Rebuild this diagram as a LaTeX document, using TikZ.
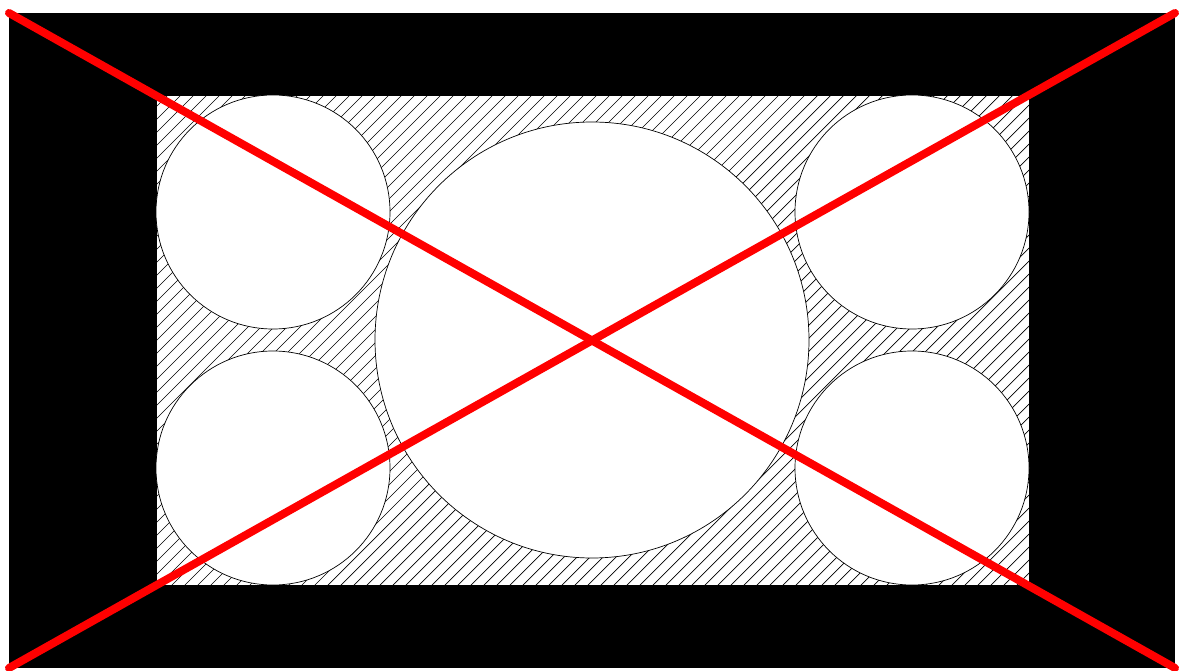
\documentclass[tikz,border=0pt]{standalone}
\begin{document}
\begin{tikzpicture}[x=1pt,y=-1pt,
  hole/.style={draw=black,fill=white,line width=0.7pt},
  hatch/.style={black,line width=0.7pt},
  cross/.style={red,line width=8pt,line cap=round}]
\useasboundingbox (0,0) rectangle (1179,671);
\fill[black] (9,13) rectangle (1175,668);
\fill[white] (157,96) rectangle (1029,585);
\begin{scope}
  \clip (157,96) rectangle (1029,585);
  \foreach \i in {-520,-507,...,880}
    \draw[hatch] (157+\i,600) -- ++(520,-520);
\end{scope}
\draw[hole] (273,212) circle (117);
\draw[hole] (273,468) circle (117);
\draw[hole] (912,212) circle (117);
\draw[hole] (912,468) circle (117);
\draw[hole] (592,340) ellipse (217 and 218);
\coordinate (tl) at (9,13);
\coordinate (br) at (1175,668);
\coordinate (bl) at (9,668);
\coordinate (tr) at (1175,13);
\draw[cross] (tl) -- (br);
\draw[cross] (bl) -- (tr);
\end{tikzpicture}
\end{document}
